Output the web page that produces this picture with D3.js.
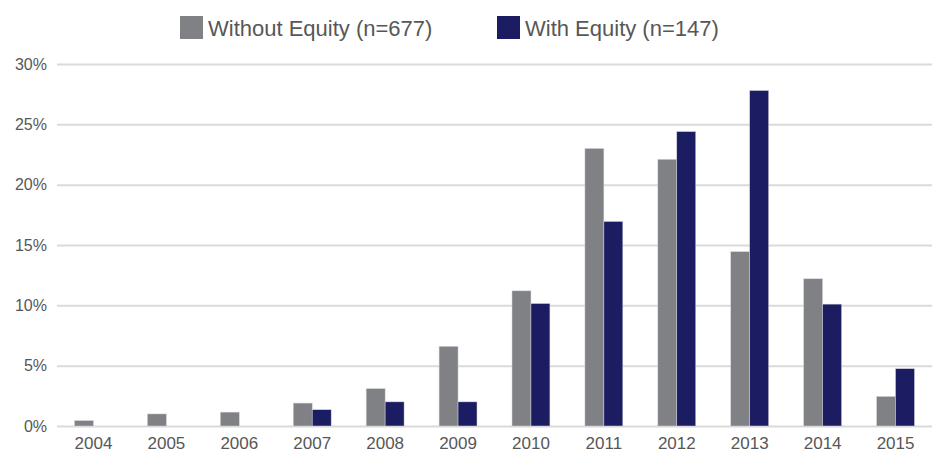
<!DOCTYPE html>
<html>
<head>
<meta charset="utf-8">
<script src="https://cdn.jsdelivr.net/npm/d3@7"></script>
<style>
  body { margin: 0; background: #fff; }
</style>
</head>
<body>
<div id="CHART"></div>
<script>
const WIDTH = 938;
const HEIGHT = 454;

// data (percent of deals)
const years = ["2004", "2005", "2006", "2007", "2008", "2009", "2010", "2011", "2012", "2013", "2014", "2015"];
const withoutEquity = [0.45, 1.0, 1.15, 1.9, 3.1, 6.6, 11.2, 23.0, 22.1, 14.45, 12.2, 2.45];
const withEquity = [0, 0, 0, 1.35, 2.0, 2.0, 10.15, 16.95, 24.4, 27.8, 10.1, 4.75];
const seriesNames = ["Without Equity (n=677)", "With Equity (n=147)"];
const seriesColors = ["#808184", "#1b1c61"];
const yTicks = [0, 5, 10, 15, 20, 25, 30];

const XRANGE = [57, 932];
const YRANGE = [426, 64];
const FONT = "'Liberation Sans', Arial, sans-serif";
const TEXT_COLOR = "#575757";

const svg = d3.select("#CHART")
              .append("svg")
              .attr("width", WIDTH)
              .attr("height", HEIGHT);

const xScale = d3.scaleBand()
                 .domain(years)
                 .range(XRANGE)
                 .paddingInner(0.48)
                 .paddingOuter(0.24);

const xSub = d3.scaleBand()
               .domain([0, 1])
               .range([0, xScale.bandwidth()]);

const yScale = d3.scaleLinear().domain([0, 30]).range(YRANGE);

// gridlines + y labels
const yAxis = svg.append("g")
   .attr("transform", "translate(" + XRANGE[0] + ",0)")
   .call(d3.axisLeft(yScale)
           .tickValues(yTicks)
           .tickSize(-(XRANGE[1] - XRANGE[0]))
           .tickPadding(10)
           .tickFormat(d => d + "%"));

yAxis.select(".domain").remove();
yAxis.selectAll(".tick line")
     .attr("stroke", "#dadada")
     .attr("stroke-width", 2);
yAxis.selectAll(".tick text")
     .style("font-family", FONT)
     .style("font-size", "16px")
     .attr("fill", TEXT_COLOR);

// bars
const rows = years.map((y, i) => ({year: y, values: [withoutEquity[i], withEquity[i]]}));

const groups = svg.append("g")
   .selectAll("g")
   .data(rows)
   .join("g")
   .attr("transform", d => "translate(" + xScale(d.year) + ",0)");

groups.selectAll("rect")
   .data(d => d.values.map((v, k) => ({k: k, v: v})).filter(e => e.v > 0))
   .join("rect")
   .attr("x", e => xSub(e.k))
   .attr("width", xSub.bandwidth())
   .attr("y", e => yScale(e.v))
   .attr("height", e => yScale(0) - yScale(e.v))
   .attr("fill", e => seriesColors[e.k])
   .attr("stroke", "#d4d4dc")
   .attr("stroke-width", 0.5);

// x axis labels
const xAxis = svg.append("g")
   .attr("transform", "translate(0," + YRANGE[0] + ")")
   .call(d3.axisBottom(xScale).tickSize(0).tickPadding(0));

xAxis.select(".domain").remove();
xAxis.selectAll(".tick text")
     .attr("dy", null)
     .attr("y", 23)
     .style("font-family", FONT)
     .style("font-size", "17px")
     .attr("fill", TEXT_COLOR);

// legend
const legendX = [180, 497];
const legend = svg.append("g")
   .selectAll("g")
   .data(seriesNames)
   .join("g")
   .attr("transform", (d, i) => "translate(" + legendX[i] + ",16)");

legend.append("rect")
   .attr("width", 23)
   .attr("height", 23)
   .attr("fill", (d, i) => seriesColors[i]);

legend.append("text")
   .attr("x", 28)
   .attr("y", 20)
   .style("font-family", FONT)
   .style("font-size", "22px")
   .attr("fill", TEXT_COLOR)
   .text(d => d);
</script>
</body>
</html>
